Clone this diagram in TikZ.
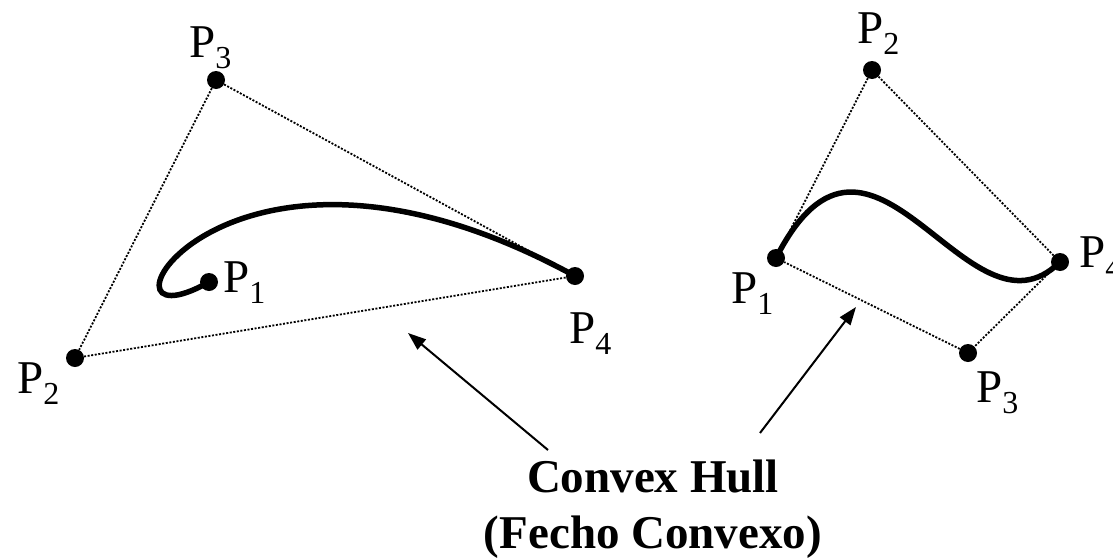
\documentclass[tikz,border=0pt]{standalone}
\usepackage{fontspec}
\setmainfont{Liberation Serif}
\usetikzlibrary{arrows.meta}
\newcommand\psub[1]{\raisebox{-11pt}{\fontsize{32}{32}\selectfont #1}}
\tikzset{
  dot/.style={circle,fill=black,inner sep=0pt,minimum size=18pt},
  lbl/.style={anchor=base west,inner sep=0pt,font=\fontsize{47}{47}\selectfont},
  hullline/.style={line width=1.8pt,dash pattern=on 2pt off 1.6pt},
  curve/.style={line width=5.5pt,line cap=round},
  pointer/.style={line width=2pt,-{Triangle[length=18pt,width=13pt]}},
  hulltext/.style={align=center,inner sep=0pt,font=\fontsize{47}{56}\selectfont\bfseries}
}
\begin{document}
\begin{tikzpicture}[x=1pt,y=-1pt]
\useasboundingbox (0,0) rectangle (1113,557);
% left figure
\node[dot] (L1) at (209,282) {};
\node[dot] (L2) at (75,358) {};
\node[dot] (L3) at (216,80) {};
\node[dot] (L4) at (575,276) {};
\draw[hullline] (L3) -- (L2);
\draw[hullline] (L3) -- (L4);
\draw[hullline] (L2) -- (L4);
\draw[curve] (L1.center) .. controls (L2.center) and (L3.center) .. (L4.center);
\node[lbl] (tL1) at (223,292) {P\psub{1}};
\node[lbl] (tL2) at (17,393) {P\psub{2}};
\node[lbl] (tL3) at (189,57) {P\psub{3}};
\node[lbl] (tL4) at (569,343) {P\psub{4}};
% right figure
\node[dot] (R1) at (776,258) {};
\node[dot] (R2) at (872,70) {};
\node[dot] (R3) at (968,353) {};
\node[dot] (R4) at (1060,262) {};
\draw[hullline] (R1) -- (R2);
\draw[hullline] (R2) -- (R4);
\draw[hullline] (R4) -- (R3);
\draw[hullline] (R3) -- (R1);
\draw[curve] (R1.center) .. controls (R2.center) and (R3.center) .. (R4.center);
\node[lbl] (tR1) at (731,303) {P\psub{1}};
\node[lbl] (tR2) at (857,43) {P\psub{2}};
\node[lbl] (tR3) at (976,402) {P\psub{3}};
\node[lbl] (tR4) at (1079,267) {P\psub{4}};
% caption and pointers
\node[hulltext,anchor=north] (hull) at (653,460) {Convex Hull\\(Fecho Convexo)};
\coordinate (aL0) at (548,450);
\coordinate (aL1) at (408,333);
\coordinate (aR0) at (760,433);
\coordinate (aR1) at (856,307);
\draw[pointer] (aL0) -- (aL1);
\draw[pointer] (aR0) -- (aR1);
\end{tikzpicture}
\end{document}
